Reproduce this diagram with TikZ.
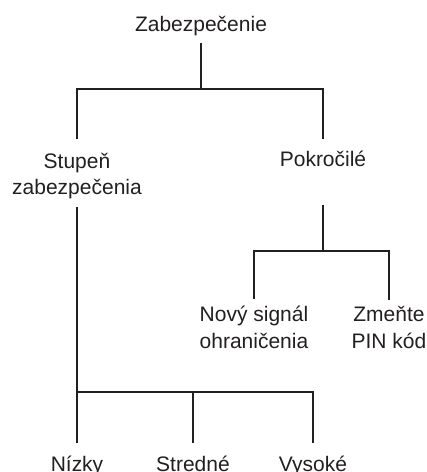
\documentclass[tikz,border=0pt]{standalone}
\usepackage{fontspec}
\setmainfont{Liberation Sans}
\usetikzlibrary{positioning}
\definecolor{ink}{HTML}{231F20}

\begin{document}
\begin{tikzpicture}[x=1pt,y=-1pt,
	item/.style={inner sep=0pt,align=center,text=ink,font=\fontsize{21}{26.5}\selectfont},
	link/.style={draw=ink,line width=2.7pt}]
	\useasboundingbox (0,0) rectangle (427,472);
	\coordinate (j1) at (201,89);
	\coordinate (j2) at (323,251);
	\coordinate (j3) at (193,392);
	\node[item,anchor=base] (root) at (201,31.5) {Zabezpečenie};
	\node[item] (stupen) at (77,176) {Stupeň\\zabezpečenia};
	\node[item,anchor=base] (pokro) at (323,166) {Pokročilé};
	\node[item] (novy) at (254,327.5) {Nový signál\\ohraničenia};
	\node[item] (zmente) at (389,327.5) {Zmeňte\\PIN kód};
	\node[item,anchor=base] (nizky) at (77,471) {Nízky};
	\node[item,anchor=base] (stredne) at (193,471) {Stredné};
	\node[item,anchor=base] (vysoke) at (313,471) {Vysoké};
	\draw[link,shorten <=7pt] (root.south) -- (j1);
	\draw[link,shorten <=14pt,shorten >=11pt] (stupen.north) |- (j1) -| (pokro.north);
	\draw[link,shorten <=39pt] (pokro.south) -- (j2);
	\draw[link,shorten <=7pt,shorten >=6pt] (novy.north) |- (j2) -| (zmente.north);
	\draw[link,shorten <=7.5pt,shorten >=12pt] (stupen.south) -- (nizky.north);
	\draw[link,shorten >=12pt] (stupen.south |- j3) -| (vysoke.north);
	\draw[link,shorten >=12pt] (j3) -- (stredne.north);
\end{tikzpicture}
\end{document}
